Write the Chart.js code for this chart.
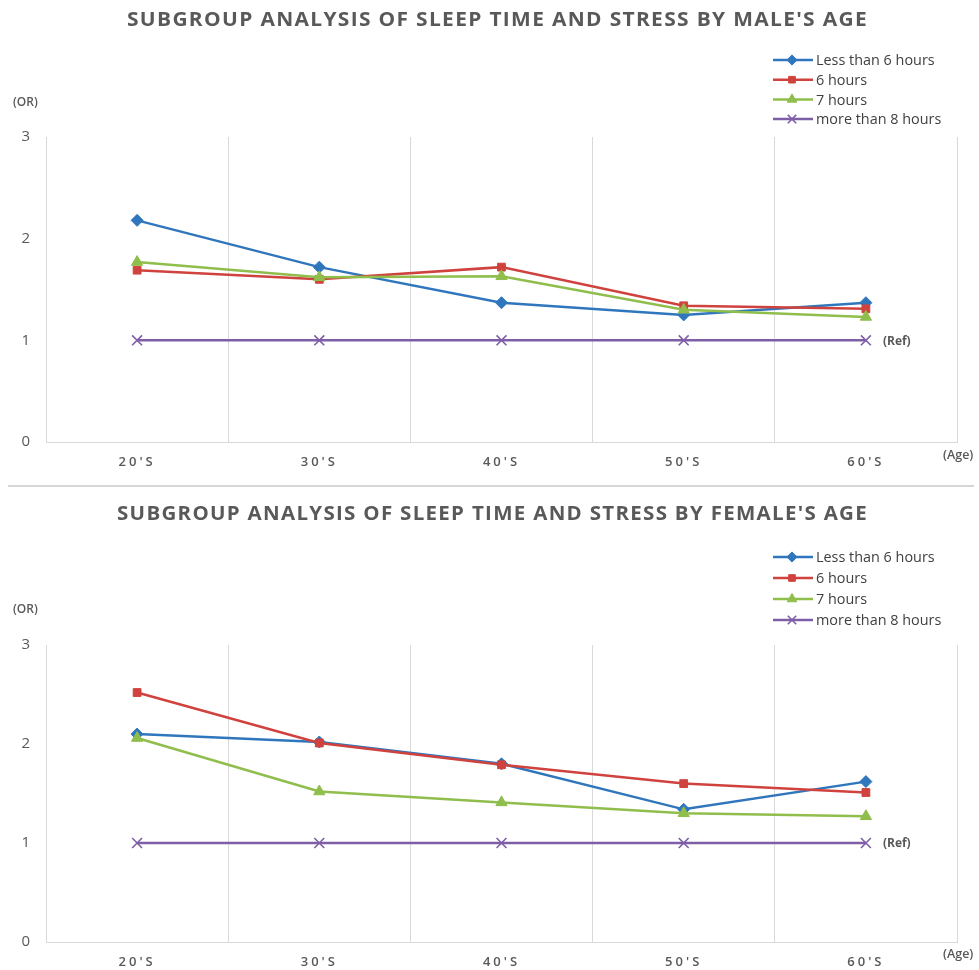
<!DOCTYPE html>
<html>
<head>
<meta charset="utf-8">
<script src="https://cdn.jsdelivr.net/npm/chart.js@4.4.1/dist/chart.umd.min.js"></script>
<style>
  html, body { margin: 0; padding: 0; background: #ffffff; }
  #wrap { position: relative; width: 979px; height: 970px; }
  .box { position: absolute; left: 0; width: 979px; }
  #box1 { top: 0; height: 486px; }
  #box2 { top: 486px; height: 484px; }
  #sep { position: absolute; left: 8px; width: 966px; top: 485px; height: 2px; background: #d6d6d6; }
</style>
</head>
<body>
<div id="wrap">
  <div class="box" id="box1"><canvas id="c1" width="979" height="486"></canvas></div>
  <div id="sep"></div>
  <div class="box" id="box2"><canvas id="c2" width="979" height="484"></canvas></div>
</div>
<script>
// ---- data ----
const categories = ["20'S", "30'S", "40'S", "50'S", "60'S"];
const seriesNames = ["Less than 6 hours", "6 hours", "7 hours", "more than 8 hours"];
const yTicks = [0, 1, 2, 3];

const maleLess6 = [2.18, 1.72, 1.37, 1.25, 1.37];
const male6     = [1.69, 1.60, 1.72, 1.34, 1.31];
const male7     = [1.77, 1.62, 1.63, 1.30, 1.23];
const male8     = [1.00, 1.00, 1.00, 1.00, 1.00];

const femaleLess6 = [2.10, 2.02, 1.80, 1.34, 1.62];
const female6     = [2.52, 2.01, 1.79, 1.60, 1.51];
const female7     = [2.06, 1.52, 1.41, 1.30, 1.27];
const female8     = [1.00, 1.00, 1.00, 1.00, 1.00];

const maleTitle = "SUBGROUP ANALYSIS OF SLEEP TIME AND STRESS BY MALE'S AGE";
const femaleTitle = "SUBGROUP ANALYSIS OF SLEEP TIME AND STRESS BY FEMALE'S AGE";

// ---- styles ----
const colors = ['#2F76BC', '#D0423E', '#8FBE4C', '#7E5EA6'];
const pointStyles = ['rectRot', 'rect', 'triangle', 'crossRot'];
const pointRadii = [6, 5.5, 6.5, 7];
const textGray = '#595959';
const gridGray = '#d9d9d9';

function makeDatasets(arrs) {
  return arrs.map((d, i) => ({
    label: seriesNames[i],
    data: d,
    borderColor: colors[i],
    backgroundColor: colors[i],
    borderWidth: 2.5,
    pointStyle: pointStyles[i],
    pointRadius: pointRadii[i],
    pointHoverRadius: pointRadii[i],
    pointBorderWidth: i === 3 ? 1.6 : 1,
    pointBorderColor: colors[i],
    pointBackgroundColor: colors[i],
    tension: 0,
    order: 4 - i
  }));
}

function decorPlugin(L) {
  return {
    id: 'decor',
    beforeDraw(chart) {
      chart.ctx.letterSpacing = '3px';
    },
    afterDraw(chart) {
      const ctx = chart.ctx;
      ctx.save();
      // title (slightly condensed bold face)
      ctx.font = 'bold 19px "Open Sans"';
      ctx.letterSpacing = '1.2px';
      ctx.fillStyle = textGray;
      ctx.textBaseline = 'middle';
      ctx.textAlign = 'left';
      const w0 = ctx.measureText(L.title).width;
      const sx = L.titleWidth / w0;
      ctx.save();
      ctx.translate(L.titleX, L.titleY);
      ctx.scale(sx, 1);
      ctx.fillText(L.title, 0, 0);
      ctx.restore();
      ctx.letterSpacing = '0px';

      // legend
      ctx.font = '15px "Open Sans"';
      seriesNames.forEach((name, i) => {
        const y = L.legendY + i * L.legendStep;
        ctx.strokeStyle = colors[i];
        ctx.lineWidth = 2.5;
        ctx.beginPath();
        ctx.moveTo(773, y);
        ctx.lineTo(813, y);
        ctx.stroke();
        ctx.fillStyle = colors[i];
        ctx.strokeStyle = colors[i];
        ctx.lineWidth = i === 3 ? 1.6 : 1;
        Chart.helpers.drawPoint(ctx, { pointStyle: pointStyles[i], radius: pointRadii[i] * 0.85, borderWidth: ctx.lineWidth, rotation: 0 }, 792, y);
        ctx.fillStyle = '#404040';
        ctx.textAlign = 'left';
        const tw = ctx.measureText(name).width;
        ctx.save();
        ctx.translate(816, y + 1);
        ctx.scale(0.96, 1);
        ctx.fillText(name, 0, 0);
        ctx.restore();
      });

      // axis captions
      ctx.fillStyle = textGray;
      ctx.font = '600 12px "Open Sans"';
      ctx.textAlign = 'left';
      ctx.fillText('(OR)', 13, L.orY);
      ctx.font = '600 12.5px "Open Sans"';
      ctx.fillText('(Age)', 943, L.ageY);

      // (Ref) next to last reference point
      const meta = chart.getDatasetMeta(3);
      const last = meta.data[meta.data.length - 1];
      ctx.font = 'bold 12px "Open Sans"';
      ctx.fillText('(Ref)', last.x + 17, last.y + 1);
      ctx.restore();
    }
  };
}

function makeChart(id, arrs, L) {
  return new Chart(document.getElementById(id), {
    type: 'line',
    data: { labels: categories, datasets: makeDatasets(arrs) },
    options: {
      responsive: false,
      animation: false,
      events: [],
      layout: { padding: { top: L.top, right: 22, left: 0, bottom: 0 } },
      plugins: { legend: { display: false }, title: { display: false }, tooltip: { enabled: false } },
      scales: {
        x: {
          offset: true,
          grid: { offset: true, color: gridGray, lineWidth: 1, drawTicks: false },
          border: { display: true, color: gridGray, width: 1 },
          ticks: { color: textGray, font: { family: 'Open Sans', size: 13, weight: '600' }, padding: L.xPad, maxRotation: 0 },
          afterFit(s) { s.height = L.xh; }
        },
        y: {
          min: 0, max: 3,
          afterBuildTicks(s) { s.ticks = yTicks.map(v => ({ value: v })); },
          grid: { display: false, drawTicks: false },
          border: { display: true, color: gridGray, width: 1 },
          ticks: { color: textGray, font: { family: 'Open Sans', size: 15 }, padding: 13 },
          afterFit(s) { s.width = 46; }
        }
      }
    },
    plugins: [decorPlugin(L)]
  });
}

makeChart('c1', [maleLess6, male6, male7, male8], {
  top: 137, xh: 44, xPad: 12,
  title: maleTitle, titleX: 127, titleWidth: 741, titleY: 21,
  legendY: 60, legendStep: 19.7,
  orY: 103, ageY: 455
});
makeChart('c2', [femaleLess6, female6, female7, female8], {
  top: 159, xh: 28, xPad: 12,
  title: femaleTitle, titleX: 117, titleWidth: 751, titleY: 29,
  legendY: 71, legendStep: 21,
  orY: 124, ageY: 468
});
</script>
</body>
</html>
